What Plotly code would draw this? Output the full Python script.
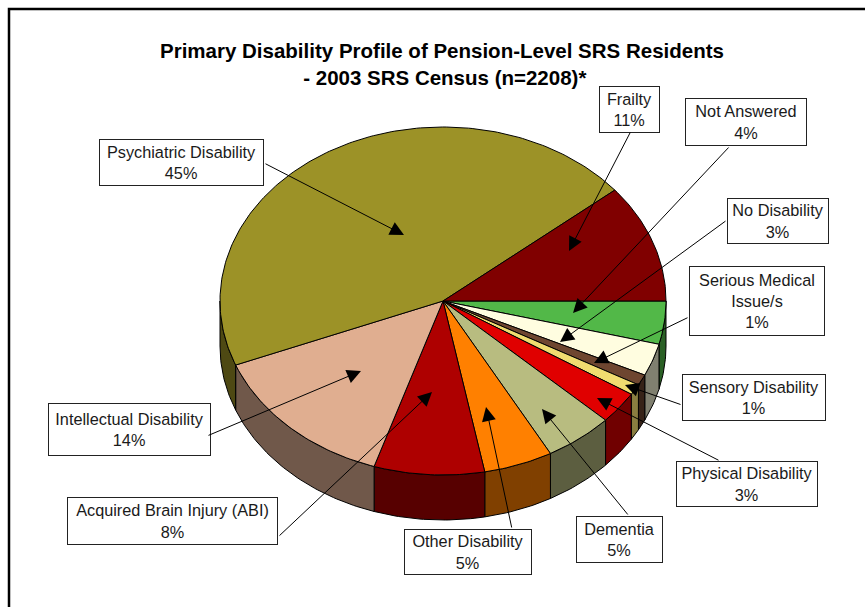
import numpy as np
import plotly.graph_objects as go

# Data, clockwise from 3 o'clock
categories = ["Not Answered", "No Disability", "Serious Medical Issue/s", "Sensory Disability",
              "Physical Disability", "Dementia", "Other Disability",
              "Acquired Brain Injury (ABI)", "Intellectual Disability",
              "Psychiatric Disability", "Frailty"]
percents = [4, 3, 1, 1, 3, 5, 5, 8, 14, 45, 11]
box_text = ["Not Answered", "No Disability", "Serious Medical<br>Issue/s", "Sensory Disability",
            "Physical Disability", "Dementia", "Other Disability",
            "Acquired Brain Injury (ABI)", "Intellectual Disability",
            "Psychiatric Disability", "Frailty"]

# Styles
top_colors = ["#52B848", "#FFFDE0", "#6E4630", "#F0DC70", "#E00000", "#B8BC80", "#FF8000",
              "#AE0000", "#E0AE90", "#9C9227", "#800000"]
side_colors = ["#2A6025", "#808070", "#372318", "#8A7E40", "#700000", "#5C5E40", "#804000",
               "#570000", "#70584A", "#4E4913", "#400000"]

# Geometry of the pie in page pixels
CX, CY, RX, RY, DEPTH = 443, 301, 223, 174, 45

# Label boxes (x0, y0, x1, y1) and leader lines (start x, start y, tip x, tip y)
boxes = [(685, 98, 807, 146), (727, 198, 829, 244), (689, 266, 825, 336), (682, 374, 826, 421),
         (676, 461, 818, 507), (576, 516, 663, 563), (404, 529, 532, 575), (67, 497, 278, 545),
         (48, 403, 211, 456), (99, 139, 264, 186), (599, 86, 660, 133)]
leaders = [(730, 146, 573, 313), (727, 220, 560, 342), (689, 317, 594, 363), (682, 405, 625, 385),
           (720, 461, 597, 398), (629, 516, 542, 409), (512, 529, 486, 407), (278, 537, 432, 392),
           (207, 436, 361, 371), (264, 163, 404, 235), (631, 131, 569, 251)]


def arc(t0, t1):
    n = max(2, int(abs(t1 - t0) * 60) + 2)
    t = np.linspace(t0, t1, n)
    return CX + RX * np.cos(t), CY + RY * np.sin(t)


edges = np.cumsum([0] + percents) / sum(percents) * 2 * np.pi
fig = go.Figure()

# Visible rim (front half only), drawn first
for i, name in enumerate(categories):
    a, b = edges[i], min(edges[i + 1], np.pi)
    if a >= np.pi:
        continue
    x, y = arc(a, b)
    fig.add_trace(go.Scatter(
        x=np.r_[x, x[::-1], x[0]], y=np.r_[y, y[::-1] + DEPTH, y[0]],
        mode="lines", fill="toself", fillcolor=side_colors[i],
        line=dict(color="black", width=1), name=name + " (side)", hoverinfo="skip"))

# Top face
for i, name in enumerate(categories):
    x, y = arc(edges[i], edges[i + 1])
    fig.add_trace(go.Scatter(
        x=np.r_[CX, x, CX], y=np.r_[CY, y, CY],
        mode="lines", fill="toself", fillcolor=top_colors[i],
        line=dict(color="black", width=1), name=name, hoverinfo="name"))

annotations = []
FONT = "Liberation Sans, Arial, sans-serif"
for i, name in enumerate(categories):
    x0, y0, x1, y1 = boxes[i]
    annotations.append(dict(
        x=(x0 + x1) / 2, y=(y0 + y1) / 2, xref="x", yref="y", showarrow=False,
        text=f"{box_text[i]}<br>{percents[i]}%", width=x1 - x0 - 2, height=y1 - y0 - 2,
        align="center", valign="middle", bgcolor="white", bordercolor="#222222", borderwidth=1,
        borderpad=0, font=dict(family=FONT, size=16.3, color="#1a1a1a")))
for sx, sy, tx, ty in leaders:
    annotations.append(dict(
        x=tx, y=ty, ax=sx, ay=sy, xref="x", yref="y", axref="x", ayref="y", text="",
        showarrow=True, arrowhead=2, arrowsize=2.8, arrowwidth=1, arrowcolor="black", standoff=0))
annotations.append(dict(
    x=442, y=64, xref="x", yref="y", showarrow=False, align="center",
    text="<b>Primary Disability Profile of Pension-Level SRS Residents<br> - 2003 SRS Census (n=2208)*</b>",
    font=dict(family=FONT, size=20.5, color="black")))

fig.update_layout(
    width=865, height=607, margin=dict(l=0, r=0, t=0, b=0), showlegend=False,
    paper_bgcolor="white", plot_bgcolor="white",
    xaxis=dict(range=[0, 865], visible=False, fixedrange=True),
    yaxis=dict(range=[607, 0], visible=False, fixedrange=True),
    annotations=annotations,
    shapes=[dict(type="rect", xref="x", yref="y", x0=9, y0=9, x1=900, y1=640,
                 line=dict(color="black", width=2.5), fillcolor="rgba(0,0,0,0)", layer="below")],
)
fig.write_html("out.html", config=dict(displayModeBar=False),
               post_script="document.body.style.margin='0';document.body.style.overflow='hidden';")
